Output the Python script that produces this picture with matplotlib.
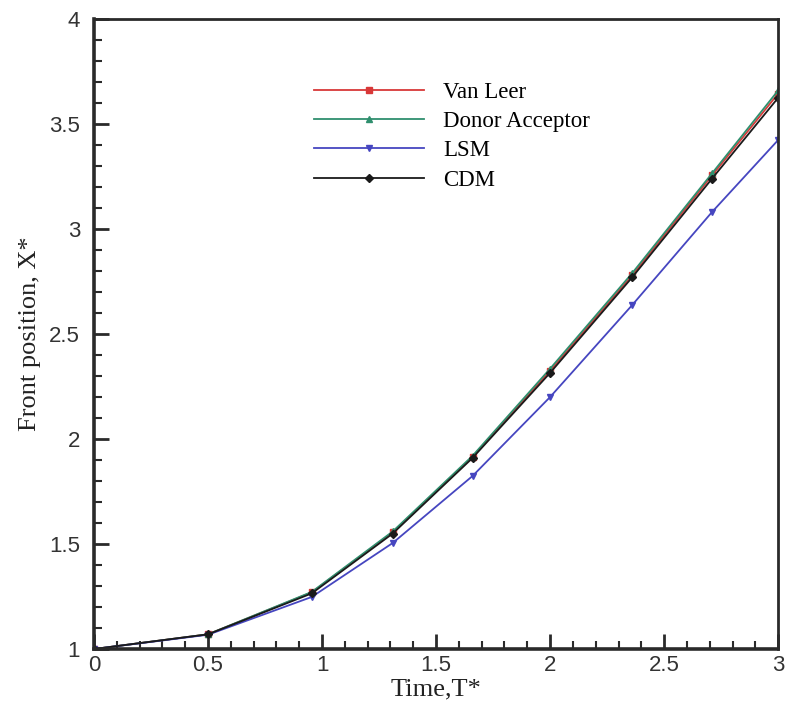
import matplotlib
matplotlib.use("Agg")
import matplotlib.pyplot as plt
from matplotlib.ticker import MultipleLocator

# Non-dimensional time samples
time = [0.0, 0.5, 0.955, 1.31, 1.66, 2.0, 2.36, 2.71, 3.0]

# Front position for each advection scheme
van_leer = [1.0, 1.07, 1.27, 1.555, 1.915, 2.325, 2.78, 3.255, 3.645]
donor_acceptor = [1.0, 1.07, 1.272, 1.56, 1.92, 2.335, 2.79, 3.265, 3.66]
lsm = [1.0, 1.068, 1.248, 1.505, 1.824, 2.20, 2.638, 3.081, 3.424]
cdm = [1.0, 1.07, 1.265, 1.55, 1.91, 2.315, 2.77, 3.24, 3.625]

series = [
    ("Van Leer", van_leer, "#d83838", "s"),
    ("Donor Acceptor", donor_acceptor, "#2f8f6e", "^"),
    ("LSM", lsm, "#4646c0", "v"),
    ("CDM", cdm, "#1a1a1a", "D"),
]

fig = plt.figure(figsize=(7.85, 7.05), dpi=100)
ax = fig.add_axes([0.1197, 0.0794, 0.8716, 0.8936])

for name, vals, color, mk in series:
    ax.plot(time, vals, color=color, marker=mk, markersize=5 if mk != "D" else 4.5,
            linewidth=1.3, label=name, clip_on=True)

ax.set_xlim(0, 3)
ax.set_ylim(1, 4)
ax.xaxis.set_minor_locator(MultipleLocator(0.1))
ax.yaxis.set_minor_locator(MultipleLocator(0.1))
ax.set_xticks([0, 0.5, 1, 1.5, 2, 2.5, 3])
ax.set_xticklabels(["0", "0.5", "1", "1.5", "2", "2.5", "3"])
ax.set_yticks([1, 1.5, 2, 2.5, 3, 3.5, 4])
ax.set_yticklabels(["1", "1.5", "2", "2.5", "3", "3.5", "4"])

ax.tick_params(which="both", direction="in", top=False, right=False,
               colors="#2a2a2a", width=2)
ax.tick_params(which="major", length=11, labelsize=16)
ax.tick_params(axis="x", which="major", pad=4)
ax.tick_params(axis="y", which="major", pad=10)
ax.tick_params(which="minor", length=6, width=1.5)
for lbl in ax.get_xticklabels() + ax.get_yticklabels():
    lbl.set_family("Liberation Sans")
    lbl.set_color("#333333")

for side in ["left", "bottom"]:
    ax.spines[side].set_linewidth(2.6)
    ax.spines[side].set_color("#2a2a2a")
for side in ["top", "right"]:
    ax.spines[side].set_linewidth(2.0)
    ax.spines[side].set_color("#2a2a2a")

ax.set_xlabel("Time,T*", family="Liberation Serif", fontsize=19, color="#222222", labelpad=2)
ax.set_ylabel("Front position, X*", family="Liberation Serif", fontsize=19,
              color="#222222", labelpad=6)

leg = ax.legend(loc="upper left", bbox_to_anchor=(0.3075, 0.915), frameon=False,
                prop={"family": "Liberation Serif", "size": 16.5},
                handlelength=4.8, handletextpad=0.85, labelspacing=0.36,
                borderaxespad=0)

fig.savefig("out.png", dpi=100, facecolor="white")
